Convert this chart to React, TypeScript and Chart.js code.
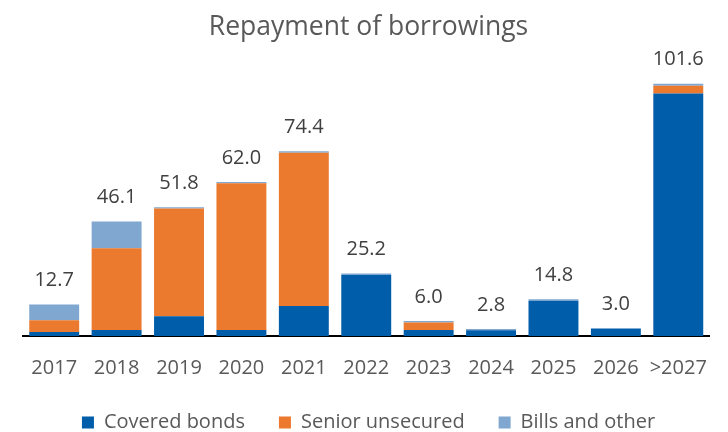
import React, { useEffect, useRef } from "react";
import { Chart, registerables } from "chart.js";

Chart.register(...registerables);

const categories = ["2017", "2018", "2019", "2020", "2021", "2022", "2023", "2024", "2025", "2026", ">2027"];
const coveredBonds = [1.6, 2.4, 8.0, 2.4, 12.1, 24.6, 2.4, 2.3, 14.2, 3.0, 97.6];
const seniorUnsecured = [4.7, 32.9, 43.3, 59.1, 61.7, 0, 3.0, 0, 0, 0, 3.2];
const billsAndOther = [6.4, 10.8, 0.5, 0.5, 0.6, 0.6, 0.6, 0.5, 0.6, 0, 0.8];

const FONT = "'Open Sans', 'Noto Sans', sans-serif";

const totalsPlugin = {
  id: "totals",
  beforeLayout(chart: any) {
    const lg = chart.legend;
    if (lg && !lg.__patched) {
      const origFit = lg.fit.bind(lg);
      lg.fit = function () {
        origFit();
        this.height = 53.5;
      };
      lg.__patched = true;
    }
  },
  afterDatasetsDraw(chart: any) {
    const { ctx, scales } = chart;
    const x = scales.x;
    const y = scales.y;
    ctx.save();
    ctx.font = `20px ${FONT}`;
    ctx.fillStyle = "#404040";
    ctx.textAlign = "center";
    ctx.textBaseline = "middle";
    categories.forEach((_, i) => {
      const total = coveredBonds[i] + seniorUnsecured[i] + billsAndOther[i];
      const px = x.getPixelForValue(i);
      const py = y.getPixelForValue(total) - 24;
      ctx.fillText(total.toFixed(1), px, py);
    });
    ctx.restore();
  },
};

export default function App() {
  const ref = useRef<HTMLCanvasElement>(null);
  useEffect(() => {
    if (!ref.current) return;
    const chart = new Chart(ref.current, {
      type: "bar",
      data: {
        labels: categories,
        datasets: [
          { label: "Covered bonds", data: coveredBonds, backgroundColor: "#005DAA", borderWidth: 0 },
          { label: "Senior unsecured", data: seniorUnsecured, backgroundColor: "#EB792E", borderWidth: 0 },
          { label: "Bills and other", data: billsAndOther, backgroundColor: "#7FA7CF", borderWidth: 0 },
        ],
      },
      options: {
        responsive: false,
        animation: false,
        devicePixelRatio: 1,
        layout: { padding: { left: 23, right: 14, top: 0, bottom: 0 } },
        datasets: { bar: { categoryPercentage: 1, barPercentage: 0.8 } },
        scales: {
          x: {
            stacked: true,
            grid: { display: false, drawTicks: false },
            border: { display: true, color: "#000000", width: 2 },
            ticks: {
              font: { family: FONT, size: 20 },
              color: "#595959",
              padding: 20.5,
              maxRotation: 0,
              minRotation: 0,
              autoSkip: false,
            },
            afterFit: (scale: any) => {
              scale.height = 42.5;
            },
          },
          y: { stacked: true, display: false, min: 0, max: 111 },
        },
        plugins: {
          title: {
            display: true,
            text: "Repayment of borrowings",
            font: { family: FONT, size: 26.5, weight: "normal" },
            color: "#595959",
            padding: { top: 12, bottom: 16.5 },
          },
          legend: {
            position: "bottom",
            labels: {
              font: { family: FONT, size: 20 },
              color: "#595959",
              boxWidth: 12,
              boxHeight: 12,
              padding: 34,
            },
          },
          tooltip: { enabled: false },
        },
      },
      plugins: [totalsPlugin],
    });
    return () => chart.destroy();
  }, []);
  return (
    <div style={{ position: "absolute", left: 0, top: 0, width: 728, height: 432, background: "#fff" }}>
      <canvas ref={ref} width={728} height={432} />
    </div>
  );
}
